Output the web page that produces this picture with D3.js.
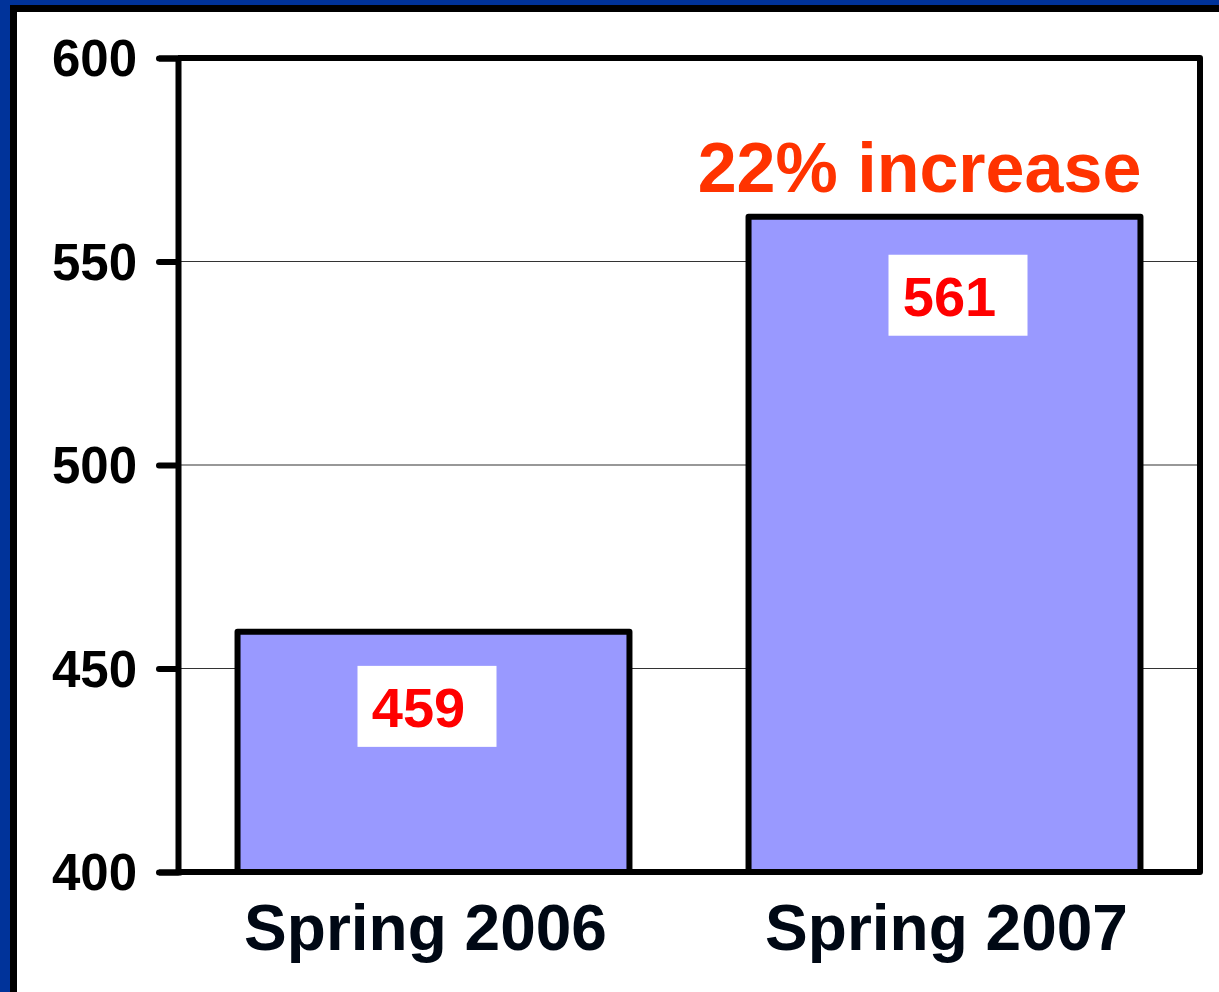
<!DOCTYPE html>
<html><head><meta charset="utf-8">
<script src="https://cdn.jsdelivr.net/npm/d3@7"></script>
<style>
html,body{margin:0;padding:0;background:#fff;overflow:hidden;}
svg{display:block;font-family:"Liberation Sans",Arial,sans-serif;font-weight:bold;}
</style></head>
<body>
<script>
const categories = ["Spring 2006", "Spring 2007"];
const values = [459, 561];
const yTicks = [400, 450, 500, 550, 600];
const yDomain = [400, 600];
const annotation = "22% increase";

const W = 1219, H = 992;
const svg = d3.select("body").append("svg").attr("width", W).attr("height", H);

// slide background & frame
svg.append("rect").attr("x",0).attr("y",0).attr("width",W).attr("height",H).attr("fill","#00339a");
svg.append("rect").attr("x",10).attr("y",5).attr("width",W-10).attr("height",H-5).attr("fill","#000");
svg.append("rect").attr("x",17).attr("y",12).attr("width",W-17).attr("height",H-12).attr("fill","#fff");

const plot = {left:178, right:1200, top:58, bottom:872};
const x = d3.scaleBand().domain(categories).range([plot.left, plot.right]).paddingInner(0.233).paddingOuter(0.1165);
const y = d3.scaleLinear().domain(yDomain).range([plot.bottom, plot.top]);

// gridlines
svg.append("g").selectAll("line").data(yTicks.filter(t => t !== yDomain[0] && t !== yDomain[1])).join("line")
  .attr("x1", plot.left).attr("x2", plot.right)
  .attr("y1", d => y(d)).attr("y2", d => y(d))
  .attr("stroke", "#333").attr("stroke-width", 1.2);

// bars
svg.append("g").selectAll("rect").data(values).join("rect")
  .attr("x", (d,i) => x(categories[i]))
  .attr("y", d => y(d))
  .attr("width", x.bandwidth())
  .attr("height", d => y(yDomain[0]) - y(d))
  .attr("fill", "#9999ff")
  .attr("stroke", "#000").attr("stroke-width", 6).attr("stroke-linejoin","round");

// frame (top & right)
svg.append("path")
  .attr("d", `M${plot.left},${plot.top}H${plot.right}V${plot.bottom}`)
  .attr("fill","none").attr("stroke","#000").attr("stroke-width",6).attr("stroke-linejoin","round");

// y axis
const yAxis = d3.axisLeft(y).tickValues(yTicks).tickSize(19).tickPadding(22).tickFormat(d3.format("d"));
const gy = svg.append("g").attr("transform", `translate(${plot.left},0)`).call(yAxis);
gy.select(".domain").attr("stroke","#000").attr("stroke-width",6);
gy.selectAll(".tick line").attr("stroke","#000").attr("stroke-width",6).attr("stroke-linecap","round");
gy.selectAll(".tick text").attr("font-size", 51).attr("font-weight","bold").attr("fill","#000")
  .attr("font-family", '"Liberation Sans",Arial,sans-serif').attr("dy","0.35em");

// x axis
const xShift = [-8, 2];
const xAxis = d3.axisBottom(x).tickSize(0).tickPadding(0);
const gx = svg.append("g").attr("transform", `translate(0,${plot.bottom})`).call(xAxis);
gx.select(".domain").remove();
gx.append("line").attr("x1", plot.left).attr("x2", plot.right).attr("stroke","#000").attr("stroke-width",6).attr("stroke-linecap","round");
gx.selectAll(".tick text").attr("font-size", 64).attr("font-weight","bold").attr("fill","#000814")
  .attr("font-family", '"Liberation Sans",Arial,sans-serif').attr("dy", null).attr("y", 78);
gx.selectAll(".tick").attr("transform", (d,i) => `translate(${x(d) + x.bandwidth()/2 + xShift[i]},0)`);

// value labels in white boxes
const labelShift = [-15, 5];
const labelDrop = [95, 99];
const lg = svg.append("g").selectAll("g").data(values).join("g")
  .attr("transform", (d,i) => `translate(${x(categories[i]) + x.bandwidth()/2 + labelShift[i]},${y(d) + labelDrop[i]})`);
lg.append("rect").attr("x", -61).attr("y", -61).attr("width", 139).attr("height", 81).attr("fill","#fff");
lg.append("text").attr("text-anchor","middle").attr("font-size",56).attr("fill","#ff0000")
  .text(d => d);

// annotation
svg.append("text")
  .attr("x", x(categories[1]) + x.bandwidth()/2 - 25)
  .attr("y", y(values[1]) - 25)
  .attr("text-anchor","middle").attr("font-size",70).attr("fill","#ff3300")
  .text(annotation);
</script>
</body></html>
